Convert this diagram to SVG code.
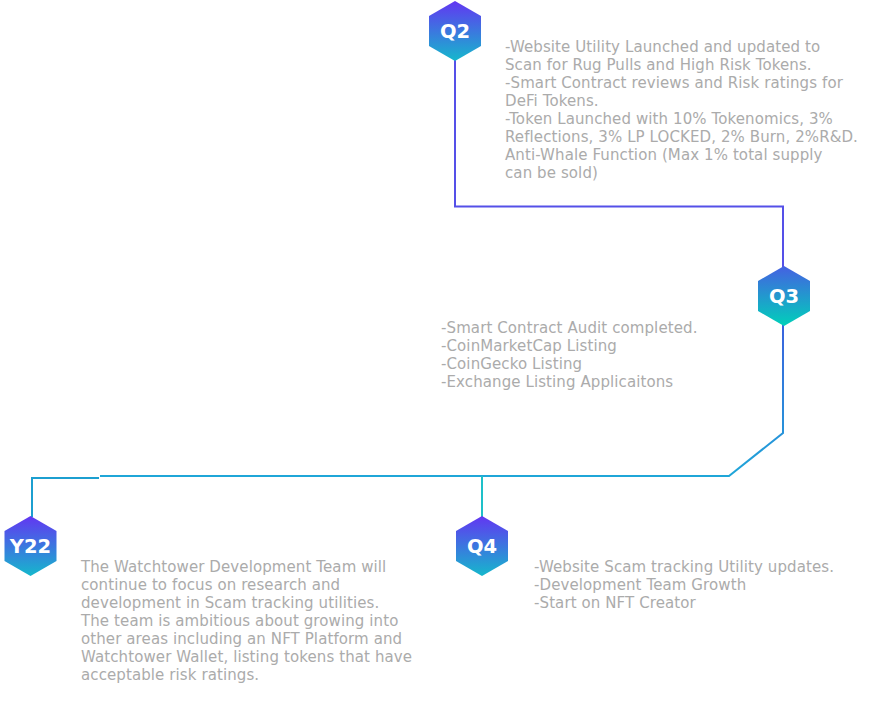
<svg xmlns="http://www.w3.org/2000/svg" width="877" height="709" viewBox="0 0 877 709">
<style>
.hexlabel{font-family:"DejaVu Sans","Liberation Sans",sans-serif;font-weight:700;font-size:19.5px;fill:#ffffff;text-anchor:middle}
.desc{font-family:"DejaVu Sans","Liberation Sans",sans-serif;font-size:15px;letter-spacing:0.1px;fill:#ababab}
.conn{fill:none;stroke-width:2}
</style>
<defs>
<linearGradient id="hexA" x1="0" y1="0" x2="0" y2="1">
<stop offset="0" stop-color="#6236f2"/>
<stop offset="1" stop-color="#15b8cc"/>
</linearGradient>
<linearGradient id="hexB" x1="0" y1="0" x2="0" y2="1">
<stop offset="0" stop-color="#4560e2"/>
<stop offset="1" stop-color="#00d0ba"/>
</linearGradient>
<linearGradient id="q3line" gradientUnits="userSpaceOnUse" x1="0" y1="326" x2="0" y2="476">
<stop offset="0" stop-color="#3a63de"/>
<stop offset="1" stop-color="#1fa6d8"/>
</linearGradient>
<polygon id="hex" points="0,-30 26,-15 26,15 0,30 -26,15 -26,-15"/>
</defs>
<g id="connectors">
<polyline class="conn" stroke="#5550e8" points="455,60 455,206.5 783,206.5 783,267"/>
<polyline class="conn" stroke="url(#q3line)" points="783,325 783,433 729,476 100,476"/>
<polyline class="conn" stroke="#1c9fd0" points="99,478 32,478 32,517"/>
<line class="conn" stroke="#1ec0c9" x1="482" y1="476" x2="482" y2="517"/>
</g>
<g id="node-q2">
<use href="#hex" x="455" y="31" fill="url(#hexA)"/>
<text class="hexlabel" x="455" y="37.5">Q2</text>
<text class="desc">
<tspan x="505" y="52">-Website Utility Launched and updated to</tspan>
<tspan x="505" y="70">Scan for Rug Pulls and High Risk Tokens.</tspan>
<tspan x="505" y="88">-Smart Contract reviews and Risk ratings for</tspan>
<tspan x="505" y="106">DeFi Tokens.</tspan>
<tspan x="505" y="124">-Token Launched with 10% Tokenomics, 3%</tspan>
<tspan x="505" y="142">Reflections, 3% LP LOCKED, 2% Burn, 2%R&amp;D.</tspan>
<tspan x="505" y="160">Anti-Whale Function (Max 1% total supply</tspan>
<tspan x="505" y="178">can be sold)</tspan>
</text>
</g>
<g id="node-q3">
<use href="#hex" x="784" y="296" fill="url(#hexB)"/>
<text class="hexlabel" x="784" y="302.5">Q3</text>
<text class="desc">
<tspan x="441" y="333">-Smart Contract Audit completed.</tspan>
<tspan x="441" y="351">-CoinMarketCap Listing</tspan>
<tspan x="441" y="369">-CoinGecko Listing</tspan>
<tspan x="441" y="387">-Exchange Listing Applicaitons</tspan>
</text>
</g>
<g id="node-y22">
<use href="#hex" x="30.5" y="546" fill="url(#hexA)"/>
<text class="hexlabel" x="30.5" y="552.5">Y22</text>
<text class="desc">
<tspan x="81" y="572">The Watchtower Development Team will</tspan>
<tspan x="81" y="590">continue to focus on research and</tspan>
<tspan x="81" y="608">development in Scam tracking utilities.</tspan>
<tspan x="81" y="626">The team is ambitious about growing into</tspan>
<tspan x="81" y="644">other areas including an NFT Platform and</tspan>
<tspan x="81" y="662">Watchtower Wallet, listing tokens that have</tspan>
<tspan x="81" y="680">acceptable risk ratings.</tspan>
</text>
</g>
<g id="node-q4">
<use href="#hex" x="482" y="546" fill="url(#hexA)"/>
<text class="hexlabel" x="482" y="552.5">Q4</text>
<text class="desc">
<tspan x="534" y="572">-Website Scam tracking Utility updates.</tspan>
<tspan x="534" y="590">-Development Team Growth</tspan>
<tspan x="534" y="608">-Start on NFT Creator</tspan>
</text>
</g>
</svg>
